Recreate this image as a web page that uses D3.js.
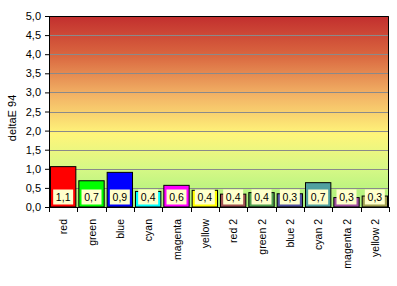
<!DOCTYPE html>
<html lang="en">
<head>
<meta charset="UTF-8">
<title>deltaE 94</title>
<script src="https://d3js.org/d3.v7.min.js"></script>
<style>
  body { margin: 0; background: #fff; }
  svg text { font-family: Arial, "Liberation Sans", sans-serif; fill: #000; }
</style>
</head>
<body>
<div id="chart"></div>
<script>
// chart values
var categories = ["red", "green", "blue", "cyan", "magenta", "yellow",
  "red 2", "green 2", "blue 2", "cyan 2", "magenta 2", "yellow 2"];
var values = [1.07, 0.70, 0.92, 0.42, 0.58, 0.45, 0.35, 0.39, 0.36, 0.65, 0.26, 0.30];
var labels = ["1,1", "0,7", "0,9", "0,4", "0,6", "0,4", "0,4", "0,4", "0,3", "0,7", "0,3", "0,3"];
var barColors = ["#ff0000", "#00ff00", "#0000ff", "#00ffff", "#ff00ff", "#ffff00",
  "#a05050", "#50a050", "#5050a0", "#50a0a0", "#a050a0", "#a0a050"];
var yTicks = [0, 0.5, 1, 1.5, 2, 2.5, 3, 3.5, 4, 4.5, 5];

var width = 397, height = 286;
var margin = { top: 16, right: 8, bottom: 79, left: 49 };
var w = width - margin.left - margin.right;
var h = height - margin.top - margin.bottom;

var locale = d3.formatLocale({ decimal: ",", thousands: ".", grouping: [3], currency: ["", ""] });
var fmt = locale.format(".1f");

var svg = d3.select("#chart").append("svg")
  .attr("width", width)
  .attr("height", height);

// background gradient of the plot area
var grad = svg.append("defs").append("linearGradient")
  .attr("id", "bg")
  .attr("x1", 0).attr("y1", 0).attr("x2", 0).attr("y2", 1);
grad.append("stop").attr("offset", "0%").attr("stop-color", "#c22e2e");
grad.append("stop").attr("offset", "20%").attr("stop-color", "#d9653f");
grad.append("stop").attr("offset", "42%").attr("stop-color", "#f3b566");
grad.append("stop").attr("offset", "62%").attr("stop-color", "#fff57a");
grad.append("stop").attr("offset", "80%").attr("stop-color", "#d6f886");
grad.append("stop").attr("offset", "100%").attr("stop-color", "#a6f07a");

var g = svg.append("g")
  .attr("transform", "translate(" + margin.left + "," + margin.top + ")");

var x = d3.scaleBand()
  .domain(categories)
  .range([0, w])
  .paddingInner(0.07)
  .paddingOuter(0.035);

var y = d3.scaleLinear()
  .domain([0, 5])
  .range([h, 0]);

g.append("rect")
  .attr("width", w)
  .attr("height", h)
  .attr("fill", "url(#bg)");

// gridlines
g.selectAll(".grid")
  .data(yTicks.filter(function(d) { return d > 0 && d < 5; }))
  .enter().append("line")
  .attr("x1", 0).attr("x2", w)
  .attr("y1", function(d) { return Math.round(y(d)) + 0.5; })
  .attr("y2", function(d) { return Math.round(y(d)) + 0.5; })
  .attr("stroke", "#8a8a8a")
  .attr("stroke-width", 1);

// bars
g.selectAll(".bar")
  .data(values)
  .enter().append("rect")
  .attr("x", function(d, i) { return x(categories[i]) + 0.5; })
  .attr("y", function(d) { return y(d) + 0.5; })
  .attr("width", x.bandwidth() - 1)
  .attr("height", function(d) { return h - y(d) - 0.5; })
  .attr("fill", function(d, i) { return barColors[i]; })
  .attr("stroke", "#000")
  .attr("stroke-width", 1);

// data labels
var lab = g.selectAll(".lab")
  .data(labels)
  .enter().append("g")
  .attr("transform", function(d, i) {
    return "translate(" + (x(categories[i]) + x.bandwidth() / 2) + "," + (h - 10) + ")";
  });
lab.append("rect")
  .attr("x", -10).attr("y", -7.5)
  .attr("width", 20).attr("height", 15)
  .attr("fill", "#ffffcc");
lab.append("text")
  .attr("text-anchor", "middle")
  .attr("dy", "0.35em")
  .style("font-size", "10.5px")
  .text(function(d) { return d; });

// plot frame top and right
g.append("path")
  .attr("d", "M0,0.5H" + (w - 0.5) + "V" + h)
  .attr("fill", "none")
  .attr("stroke", "#000");

// y axis
var yAxis = g.append("g")
  .call(d3.axisLeft(y).tickValues(yTicks).tickFormat(fmt).tickSize(4).tickSizeOuter(0));
yAxis.selectAll("text").style("font-size", "11px").attr("x", -8);
yAxis.selectAll("line, path").attr("stroke", "#000");

// x axis with ticks on band boundaries
var xAxis = g.append("g").attr("transform", "translate(0," + h + ")");
xAxis.append("line")
  .attr("x1", 0).attr("x2", w)
  .attr("y1", 0.5).attr("y2", 0.5)
  .attr("stroke", "#000");
var bounds = categories.map(function(c) { return x(c) - x.step() * x.paddingInner() / 2; });
bounds.push(w);
xAxis.selectAll(".tk")
  .data(bounds)
  .enter().append("line")
  .attr("x1", function(d) { return Math.round(d) + 0.5; })
  .attr("x2", function(d) { return Math.round(d) + 0.5; })
  .attr("y1", 0).attr("y2", 5)
  .attr("stroke", "#000");
xAxis.selectAll(".xl")
  .data(categories)
  .enter().append("text")
  .attr("transform", function(d) {
    return "translate(" + (x(d) + x.bandwidth() / 2 + 4) + ",12) rotate(-90)";
  })
  .attr("text-anchor", "end")
  .style("font-size", "10.5px")
  .text(function(d) { return d; });

// y axis title
svg.append("text")
  .attr("transform", "translate(16,118) rotate(-90)")
  .attr("text-anchor", "middle")
  .style("font-size", "11px")
  .text("deltaE 94");
</script>
</body>
</html>
